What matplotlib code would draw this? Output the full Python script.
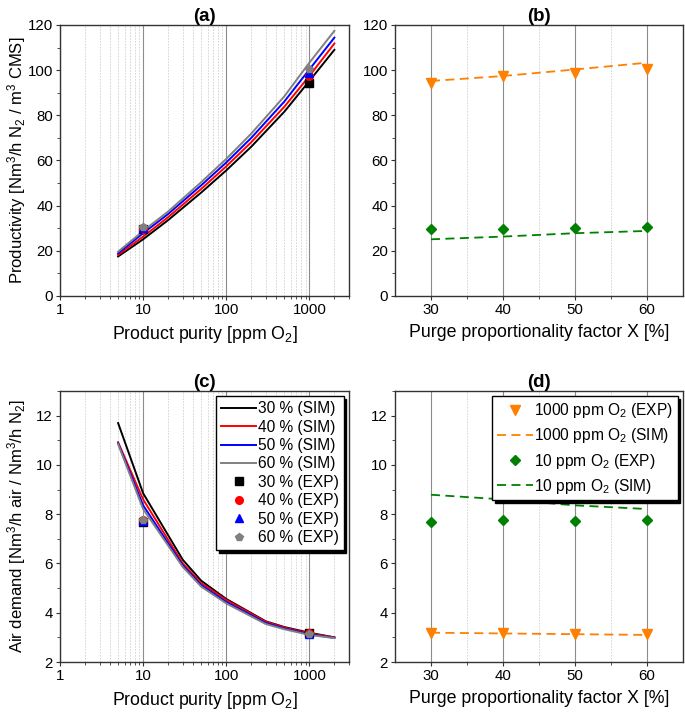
import numpy as np
import matplotlib
matplotlib.use('Agg')
import matplotlib.pyplot as plt
from matplotlib.ticker import LogLocator, MultipleLocator, FixedLocator, NullFormatter

plt.rcParams['font.family'] = ['Liberation Sans', 'DejaVu Sans']
plt.rcParams['mathtext.fontset'] = 'custom'
plt.rcParams['mathtext.rm'] = 'Liberation Sans'
plt.rcParams['mathtext.it'] = 'Liberation Sans:italic'
plt.rcParams['mathtext.bf'] = 'Liberation Sans:bold'

# ---- data ----
purities = [5, 10, 20, 50, 100, 200, 500, 1000, 2000]
prod_30 = [17.5, 25.1, 33.6, 45.8, 55.6, 66.1, 81.6, 95.2, 109.0]
prod_40 = [18.2, 26.3, 34.9, 47.4, 57.4, 68.1, 83.8, 97.4, 111.8]
prod_50 = [18.9, 27.8, 36.3, 49.0, 59.1, 70.0, 86.1, 100.3, 114.4]
prod_60 = [19.6, 28.8, 37.4, 50.4, 60.7, 71.9, 88.4, 103.3, 117.4]

exp_purities = [10, 1000]
exp_prod_30 = [29.5, 94.5]
exp_prod_40 = [29.8, 97.2]
exp_prod_50 = [30.2, 98.6]
exp_prod_60 = [30.6, 100.6]

purities_c = [5, 10, 30, 50, 100, 300, 500, 1000, 2000]
air_30 = [11.7, 8.85, 6.15, 5.3, 4.56, 3.65, 3.42, 3.19, 3.0]
air_40 = [10.92, 8.6, 6.0, 5.2, 4.52, 3.63, 3.40, 3.16, 3.0]
air_50 = [10.88, 8.36, 5.92, 5.12, 4.44, 3.58, 3.36, 3.13, 2.98]
air_60 = [10.85, 8.21, 5.86, 5.06, 4.38, 3.54, 3.33, 3.10, 2.97]

exp_air_30 = [7.68, 3.17]
exp_air_40 = [7.78, 3.16]
exp_air_50 = [7.72, 3.15]
exp_air_60 = [7.78, 3.13]

purge = [30, 40, 50, 60]
b_exp_1000 = [94.5, 97.2, 98.6, 100.6]
b_sim_1000 = [95.2, 97.4, 100.3, 103.3]
b_exp_10 = [29.5, 29.8, 30.2, 30.6]
b_sim_10 = [25.1, 26.3, 27.8, 28.8]

d_exp_1000 = [3.17, 3.16, 3.15, 3.13]
d_sim_1000 = [3.19, 3.16, 3.13, 3.10]
d_exp_10 = [7.68, 7.78, 7.72, 7.78]
d_sim_10 = [8.79, 8.60, 8.36, 8.21]

labels_pct = ['30 %', '40 %', '50 %', '60 %']
colors = ['black', 'red', 'blue', 'gray']
markers = ['s', 'o', '^', 'p']
orange = '#FF7F00'
green = '#008000'

LABEL_FS = 12.8
YLABEL_FS = 12.0
TICK_FS = 10.8
TITLE_FS = 13.5
LEG_FS = 11.2

fig = plt.figure(figsize=(6.85, 7.12), dpi=100)
ax_a = fig.add_axes([0.0876, 0.5843, 0.4219, 0.3806])
ax_b = fig.add_axes([0.5766, 0.5843, 0.4204, 0.3806])
ax_c = fig.add_axes([0.0876, 0.0702, 0.4219, 0.3806])
ax_d = fig.add_axes([0.5766, 0.0702, 0.4204, 0.3806])


def style(ax):
    for s in ax.spines.values():
        s.set_color('#333333')
        s.set_linewidth(1.0)
    ax.tick_params(which='major', direction='out', length=3, width=0.8,
                   labelsize=TICK_FS, color='#333333', pad=2)
    ax.tick_params(which='minor', direction='out', length=2, width=0.6,
                   color='#333333')
    ax.grid(which='major', axis='x', color='#8c8c8c', linewidth=0.8)
    ax.grid(which='minor', axis='x', color='#d0d0d0', linewidth=0.6,
            linestyle=(0, (2, 1.5)))
    ax.set_axisbelow(True)


def log_axis(ax):
    ax.set_xscale('log')
    ax.set_xlim(1, 3000)
    ax.xaxis.set_major_locator(FixedLocator([1, 10, 100, 1000]))
    ax.set_xticklabels(['1', '10', '100', '1000'])
    ax.xaxis.set_minor_locator(LogLocator(base=10, subs=np.arange(2, 10)))
    ax.xaxis.set_minor_formatter(NullFormatter())
    ax.set_xlabel('Product purity [ppm O$_2$]', fontsize=LABEL_FS, labelpad=5)


def purge_axis(ax):
    ax.set_xlim(25, 65)
    ax.xaxis.set_major_locator(MultipleLocator(10))
    ax.xaxis.set_minor_locator(FixedLocator([35, 45, 55]))
    ax.set_xlabel('Purge proportionality factor X [%]', fontsize=LABEL_FS, labelpad=5)


def leg_style(ax, spacing):
    leg = ax.legend(loc='upper right', fontsize=LEG_FS, frameon=True, fancybox=False,
                    edgecolor='black', framealpha=1, handlelength=2.3,
                    handletextpad=0.1, labelspacing=spacing, borderpad=0.3,
                    borderaxespad=0.35,
                    shadow={'color': 'black', 'alpha': 1, 'ox': 2, 'oy': -2})
    leg.get_frame().set_linewidth(1.0)


# (a)
style(ax_a)
log_axis(ax_a)
for ys, c in zip([prod_30, prod_40, prod_50, prod_60], colors):
    ax_a.plot(purities, ys, color=c, lw=1.4)
for ys, c, m in zip([exp_prod_30, exp_prod_40, exp_prod_50, exp_prod_60], colors, markers):
    ax_a.plot(exp_purities, ys, ls='none', marker=m, color=c, ms=5.5)
ax_a.set_ylim(0, 120)
ax_a.yaxis.set_major_locator(MultipleLocator(20))
ax_a.yaxis.set_minor_locator(MultipleLocator(10))
ax_a.set_ylabel('Productivity [Nm$^3$/h N$_2$ / m$^3$ CMS]', fontsize=YLABEL_FS)
ax_a.yaxis.set_label_coords(-0.11, 0.5)
ax_a.set_title('(a)', fontsize=TITLE_FS, fontweight='bold', pad=3)

# (b)
style(ax_b)
purge_axis(ax_b)
ax_b.plot(purge, b_sim_1000, ls=(0, (5, 3)), color=orange, lw=1.3)
ax_b.plot(purge, b_exp_1000, ls='none', marker='v', color=orange, ms=7)
ax_b.plot(purge, b_sim_10, ls=(0, (5, 3)), color=green, lw=1.3)
ax_b.plot(purge, b_exp_10, ls='none', marker='D', color=green, ms=5.5)
ax_b.set_ylim(0, 120)
ax_b.yaxis.set_major_locator(MultipleLocator(20))
ax_b.yaxis.set_minor_locator(MultipleLocator(10))
ax_b.set_title('(b)', fontsize=TITLE_FS, fontweight='bold', pad=3)

# (c)
style(ax_c)
log_axis(ax_c)
for ys, c, lab in zip([air_30, air_40, air_50, air_60], colors, labels_pct):
    ax_c.plot(purities_c, ys, color=c, lw=1.4, label=lab + ' (SIM)')
for ys, c, m, lab in zip([exp_air_30, exp_air_40, exp_air_50, exp_air_60], colors, markers, labels_pct):
    ax_c.plot(exp_purities, ys, ls='none', marker=m, color=c, ms=5.5, label=lab + ' (EXP)')
ax_c.set_ylim(2, 13)
ax_c.yaxis.set_major_locator(MultipleLocator(2))
ax_c.yaxis.set_minor_locator(MultipleLocator(1))
ax_c.set_ylabel('Air demand [Nm$^3$/h air / Nm$^3$/h N$_2$]', fontsize=YLABEL_FS)
ax_c.yaxis.set_label_coords(-0.11, 0.5)
ax_c.set_title('(c)', fontsize=TITLE_FS, fontweight='bold', pad=3)
leg_style(ax_c, 0.22)

# (d)
style(ax_d)
purge_axis(ax_d)
ax_d.plot(purge, d_exp_1000, ls='none', marker='v', color=orange, ms=7,
          label='1000 ppm O$_2$ (EXP)')
ax_d.plot(purge, d_sim_1000, ls=(0, (5, 3)), color=orange, lw=1.3,
          label='1000 ppm O$_2$ (SIM)')
ax_d.plot(purge, d_exp_10, ls='none', marker='D', color=green, ms=5.5,
          label='10 ppm O$_2$ (EXP)')
ax_d.plot(purge, d_sim_10, ls=(0, (5, 3)), color=green, lw=1.3,
          label='10 ppm O$_2$ (SIM)')
ax_d.set_ylim(2, 13)
ax_d.yaxis.set_major_locator(MultipleLocator(2))
ax_d.yaxis.set_minor_locator(MultipleLocator(1))
ax_d.set_title('(d)', fontsize=TITLE_FS, fontweight='bold', pad=3)
leg_style(ax_d, 0.4)

fig.savefig('out.png', dpi=100)
